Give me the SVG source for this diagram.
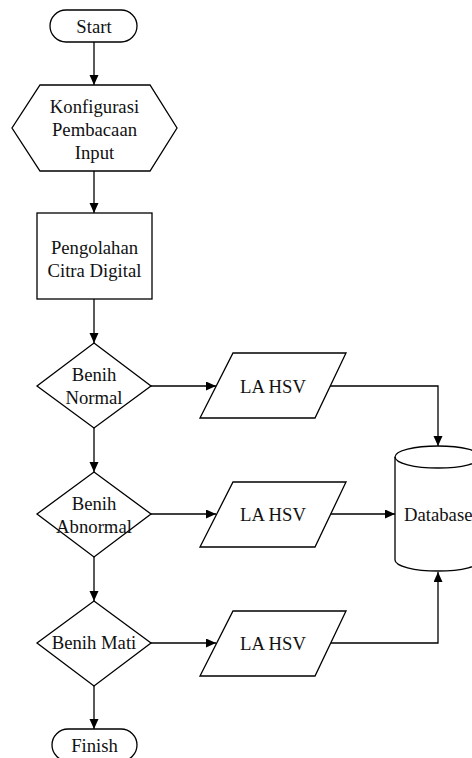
<svg xmlns="http://www.w3.org/2000/svg" width="472" height="758" viewBox="0 0 472 758">
<defs>
<marker id="arr" markerUnits="userSpaceOnUse" markerWidth="10" markerHeight="10" refX="10" refY="4.5" orient="auto">
<path d="M0,0 L10,4.5 L0,9 z" fill="#000"/>
</marker>
<style>
.s{fill:#fff;stroke:#000;stroke-width:1.3}
.c{fill:none;stroke:#000;stroke-width:1.3;marker-end:url(#arr)}
text{font-family:"Liberation Serif","Times New Roman",serif;font-size:18.7px;fill:#111;text-anchor:middle;dominant-baseline:central}
</style>
</defs>
<rect width="472" height="758" fill="#fff"/>
<g id="connectors">
<path class="c" d="M94,42 V85"/>
<path class="c" d="M94,171 V213"/>
<path class="c" d="M94,299 V343"/>
<path class="c" d="M94,428 V472"/>
<path class="c" d="M94,557 V601"/>
<path class="c" d="M94,686 V729"/>
<path class="c" d="M151,386 H216"/>
<path class="c" d="M151,514 H216"/>
<path class="c" d="M151,643 H216"/>
<path class="c" d="M330,386 H438 V446"/>
<path class="c" d="M330,514 H395"/>
<path class="c" d="M330,643 H438 V572"/>
</g>
<g id="start">
<rect class="s" x="50" y="10" width="87" height="32" rx="16"/>
<text x="94" y="26">Start</text>
</g>
<g id="konfigurasi">
<polygon class="s" points="40,85 150,85 177,128 150,171 40,171 12,128"/>
<text x="94.5" y="106">Konfigurasi</text>
<text x="94.5" y="129">Pembacaan</text>
<text x="94.5" y="152">Input</text>
</g>
<g id="pengolahan">
<rect class="s" x="37" y="213" width="115" height="86"/>
<text x="94.5" y="247">Pengolahan</text>
<text x="94.5" y="270">Citra Digital</text>
</g>
<g id="normal">
<polygon class="s" points="94,343 151,386 94,428 37,386"/>
<text x="94" y="374">Benih</text>
<text x="94" y="397">Normal</text>
</g>
<g id="abnormal">
<polygon class="s" points="94,472 151,514 94,557 37,514"/>
<text x="94" y="503">Benih</text>
<text x="94" y="526">Abnormal</text>
</g>
<g id="mati">
<polygon class="s" points="94,601 151,643 94,686 37,643"/>
<text x="94" y="642">Benih Mati</text>
</g>
<g id="finish">
<rect class="s" x="52" y="729" width="85" height="32" rx="16"/>
<text x="94.5" y="745">Finish</text>
</g>
<g id="lahsv1">
<polygon class="s" points="233,353 346,353 315,418 200,418"/>
<text x="273" y="386">LA HSV</text>
</g>
<g id="lahsv2">
<polygon class="s" points="233,482 346,482 315,547 200,547"/>
<text x="273" y="514">LA HSV</text>
</g>
<g id="lahsv3">
<polygon class="s" points="233,611 346,611 315,676 200,676"/>
<text x="273" y="643">LA HSV</text>
</g>
<g id="database">
<path class="s" d="M395,457 A43,11 0 0 1 481,457 V560 A43,11 0 0 1 395,560 Z"/>
<path fill="none" stroke="#000" stroke-width="1.3" d="M395,457 A43,11 0 0 0 481,457"/>
<text x="404" y="514" style="text-anchor:start">Database</text>
</g>
</svg>
